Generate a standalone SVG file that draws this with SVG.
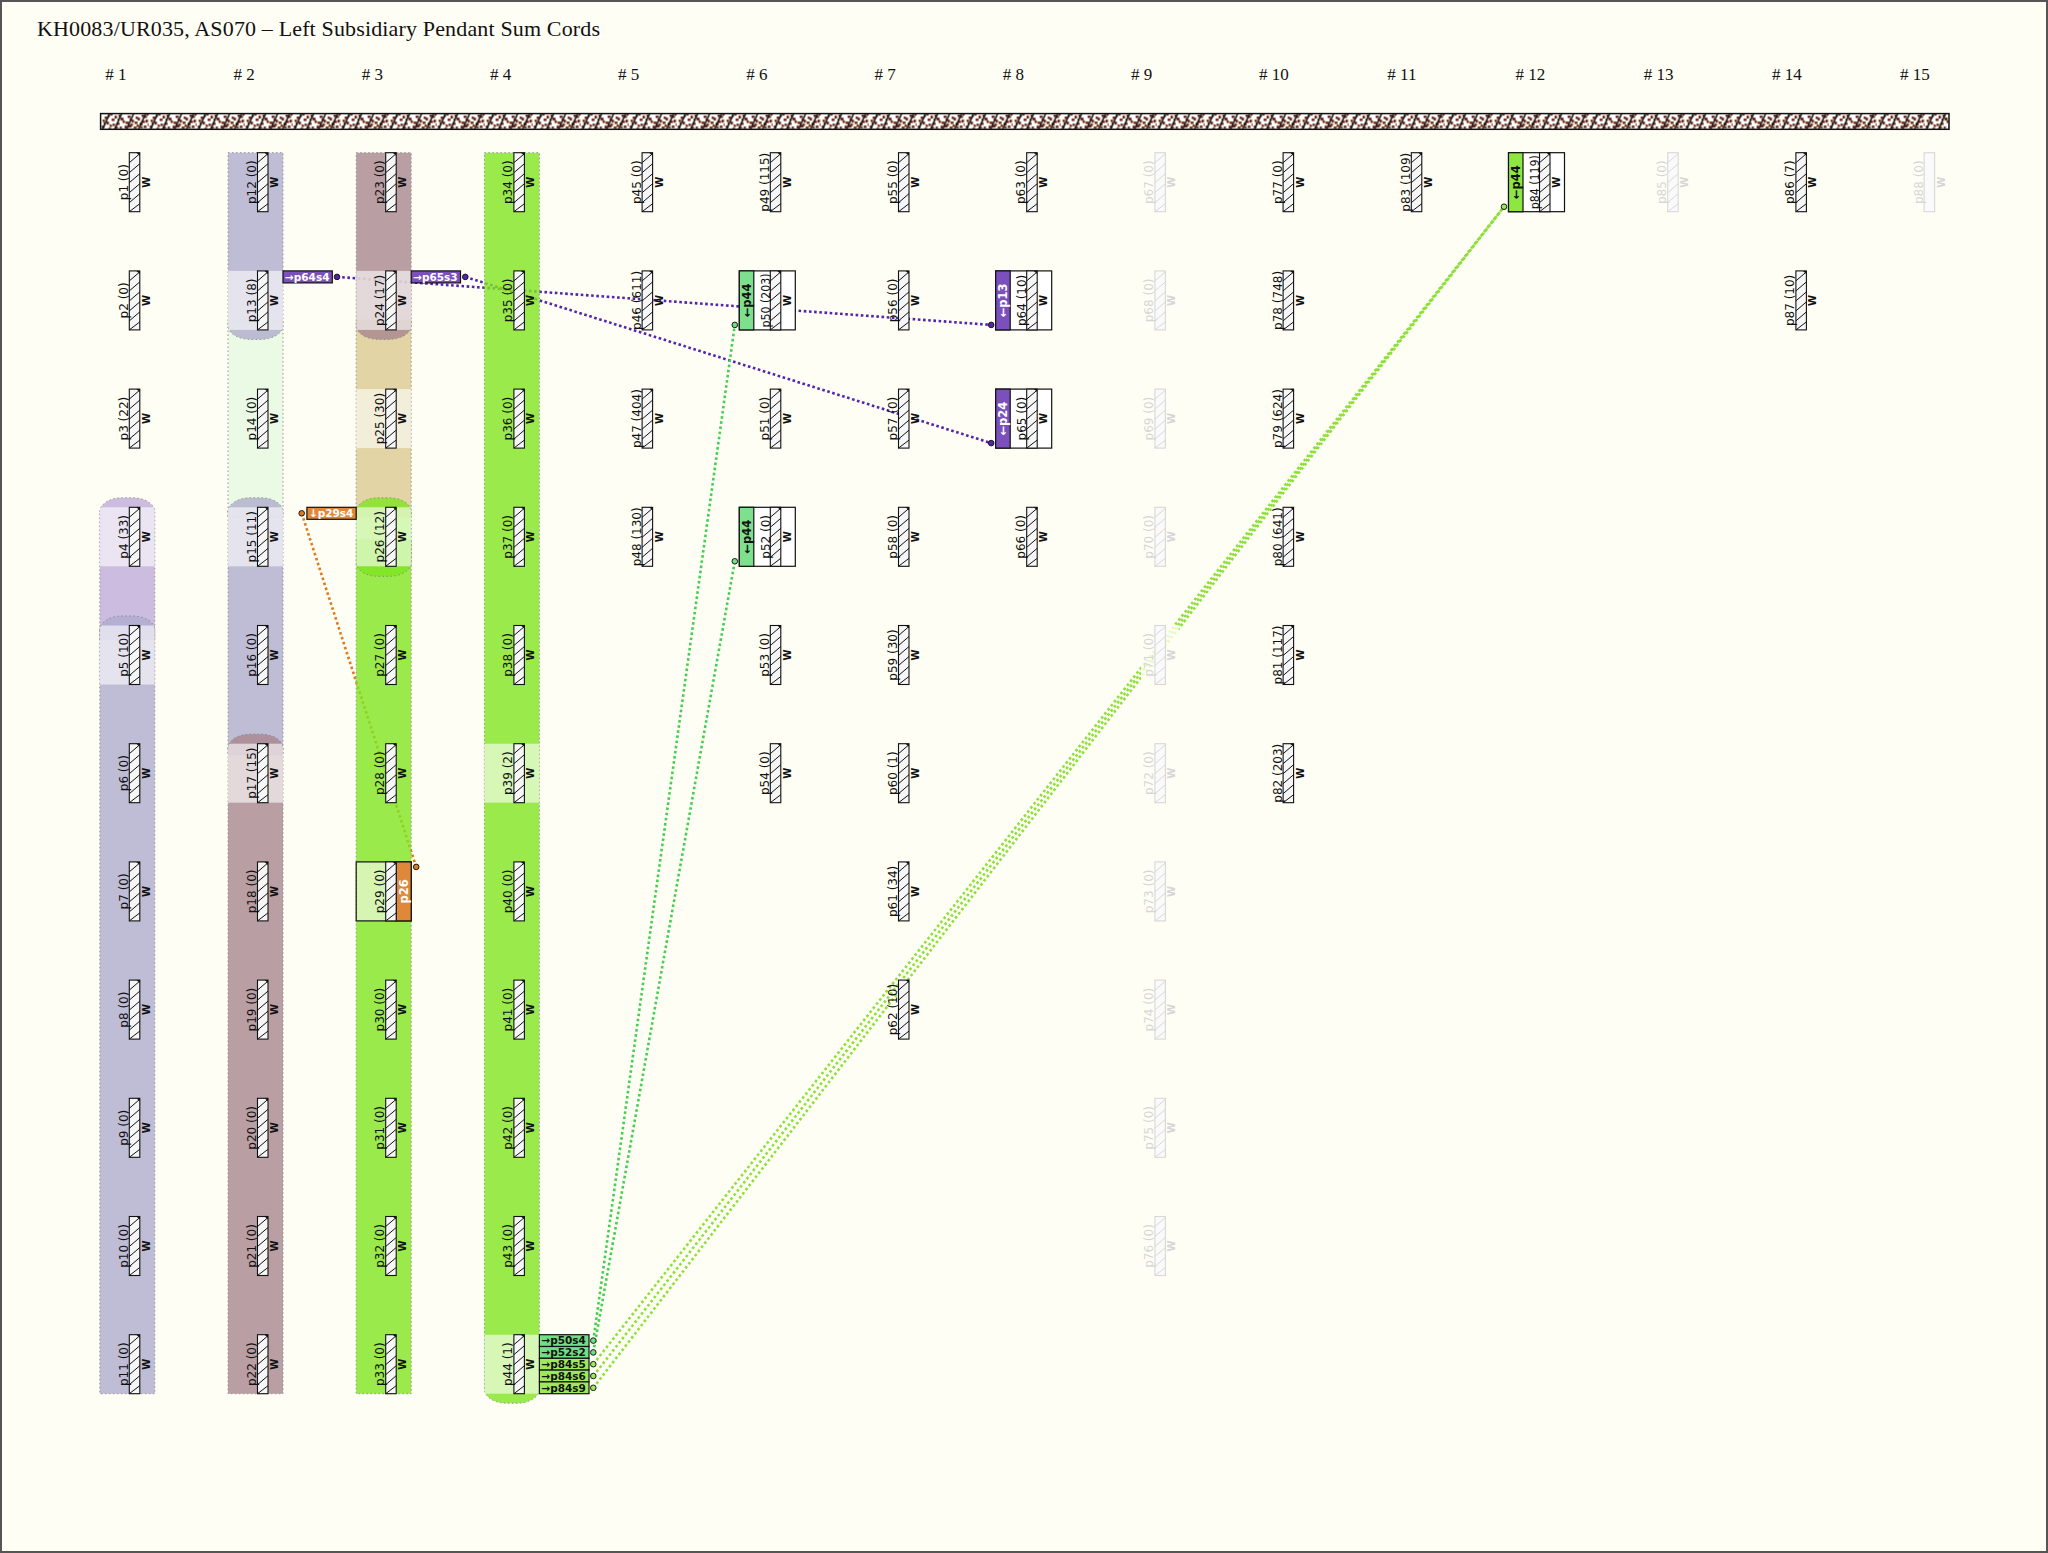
<svg xmlns="http://www.w3.org/2000/svg" width="2048" height="1553" viewBox="0 0 2048 1553">
<style>
.title{font-family:"Liberation Serif",serif;font-size:22px;fill:#111}
.hdr{font-family:"Liberation Serif",serif;font-size:17px;fill:#111}
.lbl{font-family:"DejaVu Sans",sans-serif;font-size:12px;text-anchor:middle;fill:#111}
.w{font-family:"DejaVu Sans",sans-serif;font-size:10px;font-weight:bold;text-anchor:middle;fill:#111}
.faded .lbl,.faded .w{fill:#d6d6d6}
.strip{font-family:"DejaVu Sans",sans-serif;font-size:11.5px;font-weight:bold;text-anchor:middle}
.tag{font-family:"DejaVu Sans",sans-serif;font-size:10.5px;font-weight:bold}
.pill{opacity:0.8;stroke:#7a7a7a;stroke-width:1;stroke-dasharray:1.5 2.5}
.band{fill:#fff;opacity:0.6}
.bx{stroke:#111;stroke-width:1.2}
.lk{fill:none;stroke-width:2.6;stroke-dasharray:2.6 2.6}
.dot{stroke:#1a1a1a;stroke-width:1}
</style>
<defs>
<pattern id="knot" patternUnits="userSpaceOnUse" x="100.6" y="113.6" width="48" height="15.7">
<rect width="48" height="15.7" fill="#fff"/>
<g fill="#6a2810">
<rect x="4" y="3" width="3" height="2.4"/><rect x="6" y="8" width="2.4" height="3"/><rect x="1" y="12" width="3" height="2.4"/><rect x="9" y="11" width="2.4" height="2.4"/><rect x="11" y="5" width="3" height="2.4"/><rect x="14" y="2" width="2.4" height="3"/><rect x="16" y="9" width="3" height="2.4"/><rect x="19" y="13" width="2.4" height="2.4"/><rect x="20" y="4" width="3" height="3"/><rect x="22" y="7" width="2.4" height="2.4"/><rect x="27" y="2" width="3" height="2.4"/><rect x="28" y="11" width="3" height="3"/><rect x="31" y="6" width="2.4" height="3"/><rect x="33" y="13" width="3" height="2.4"/><rect x="35" y="3" width="2.4" height="2.4"/><rect x="39" y="9" width="3" height="3"/><rect x="41" y="1" width="2.4" height="2.4"/><rect x="43" y="12" width="3" height="2.4"/><rect x="45" y="6" width="2.4" height="3"/><rect x="47" y="10" width="1" height="2.4"/><rect x="2" y="6" width="2.4" height="2.4"/><rect x="15" y="13" width="2.4" height="2.4"/><rect x="25" y="8" width="3" height="2.4"/><rect x="37" y="4" width="2.4" height="3"/><rect x="44" y="2" width="2.4" height="2.4"/><rect x="8" y="14" width="2.4" height="1.6"/><rect x="18" y="1" width="2.4" height="2.4"/><rect x="30" y="10" width="2.4" height="2.4"/><rect x="34" y="8" width="3" height="2.4"/><rect x="42" y="7" width="2.4" height="2.4"/><rect x="12" y="10" width="2.4" height="2.4"/><rect x="24" y="12" width="2.4" height="3"/><rect x="36" y="11" width="2.4" height="2.4"/><rect x="7" y="1" width="2.4" height="2.4"/><rect x="3" y="9" width="2" height="2"/><rect x="17" y="5" width="2" height="2"/><rect x="29" y="5" width="2" height="2"/><rect x="40" y="13" width="2" height="2"/><rect x="46" y="0" width="2" height="2"/><rect x="10" y="0" width="2" height="2"/>
</g>
<path d="M2,15.7L9,0M14,15.7L21,0M26,15.7L33,0M38,15.7L45,0" stroke="#111" stroke-width="1.6"/>
</pattern>
<g id="cord"><rect width="10.5" height="59" fill="#f6f6f6" stroke="#111" stroke-width="1.1"/><path d="M0,10L10.5,1M0,20L10.5,11M0,30L10.5,21M0,40L10.5,31M0,50L10.5,41M0,59L10.5,51" stroke="#111" stroke-width="1"/><path d="M7,0H10.5V3Z" fill="#111"/></g>
<g id="cordf"><rect width="10.5" height="59" fill="#fafafa" stroke="#d8d8d8" stroke-width="1.1"/><path d="M0,10L10.5,1M0,20L10.5,11M0,30L10.5,21M0,40L10.5,31M0,50L10.5,41M0,59L10.5,51" stroke="#d8d8d8" stroke-width="1"/></g>
<g id="cordp"><rect width="10.5" height="59" fill="#fafafa" stroke="#d8d8d8" stroke-width="1.1"/></g>
<path id="c1a" d="M99.8,511.8A22,14 0 0 1 121.8,497.8H132.8A22,14 0 0 1 154.8,511.8V640H99.8Z"/>
<path id="c1b" d="M99.8,630A22,14 0 0 1 121.8,616H132.8A22,14 0 0 1 154.8,630V1393.7H99.8Z"/>
<path id="c2g" d="M228,320H283V517H228Z"/>
<path id="c2a" d="M228,152.7H283V325.4A22,14 0 0 1 261,339.4H250A22,14 0 0 1 228,325.4Z"/>
<path id="c2b" d="M228,511.8A22,14 0 0 1 250,497.8H261A22,14 0 0 1 283,511.8V755H228Z"/>
<path id="c2c" d="M228,748.2A22,14 0 0 1 250,734.2H261A22,14 0 0 1 283,748.2V1393.7H228Z"/>
<path id="c3t" d="M356.2,320H411.2V517H356.2Z"/>
<path id="c3a" d="M356.2,152.7H411.2V325.4A22,14 0 0 1 389.2,339.4H378.2A22,14 0 0 1 356.2,325.4Z"/>
<path id="c3g" d="M356.2,540H411.2V1393.7H356.2Z"/>
<path id="c3b" d="M356.2,511.8A22,14 0 0 1 378.2,497.8H389.2A22,14 0 0 1 411.2,511.8V562.3A22,14 0 0 1 389.2,576.3H378.2A22,14 0 0 1 356.2,562.3Z"/>
<path id="c4a" d="M484.4,152.7H539.4V1389.2A22,14 0 0 1 517.4,1403.2H506.4A22,14 0 0 1 484.4,1389.2Z"/>
<clipPath id="k1a"><use href="#c1a"/></clipPath>
<clipPath id="k1b"><use href="#c1b"/></clipPath>
<clipPath id="k2a"><use href="#c2a"/></clipPath>
<clipPath id="k2b"><use href="#c2b"/></clipPath>
<clipPath id="k2c"><use href="#c2c"/></clipPath>
<clipPath id="k3a"><use href="#c3a"/></clipPath>
<clipPath id="k3b"><use href="#c3b"/></clipPath>
<clipPath id="k4a"><use href="#c4a"/></clipPath>
</defs>
<rect x="0" y="0" width="2048" height="1553" fill="#fffef5"/>
<rect x="1" y="1" width="2046" height="1551" fill="none" stroke="#555" stroke-width="2"/>
<text class="title" x="37" y="36" textLength="563" lengthAdjust="spacing">KH0083/UR035, AS070 – Left Subsidiary Pendant Sum Cords</text>
<g id="headers">
<text class="hdr" x="105.3" y="80"># 1</text><text class="hdr" x="233.5" y="80"># 2</text><text class="hdr" x="361.7" y="80"># 3</text><text class="hdr" x="489.9" y="80"># 4</text><text class="hdr" x="618.1" y="80"># 5</text><text class="hdr" x="746.3" y="80"># 6</text><text class="hdr" x="874.5" y="80"># 7</text><text class="hdr" x="1002.7" y="80"># 8</text><text class="hdr" x="1130.9" y="80"># 9</text><text class="hdr" x="1259.1" y="80"># 10</text><text class="hdr" x="1387.3" y="80"># 11</text><text class="hdr" x="1515.5" y="80"># 12</text><text class="hdr" x="1643.7" y="80"># 13</text><text class="hdr" x="1771.9" y="80"># 14</text><text class="hdr" x="1900.1" y="80"># 15</text>
</g>
<rect id="primary" x="100.6" y="113.6" width="1848.4" height="15.7" fill="url(#knot)" stroke="#111" stroke-width="1.5"/>
<g id="connectors">
<path class="lk" stroke="#5424b0" d="M337,276.9L991.2,324.9"/>
<path class="lk" stroke="#5424b0" d="M465.3,276.9L991.2,443.1"/>
<path class="lk" stroke="#e07a1c" d="M301.7,513.3L416.2,866.9"/>
<path class="lk" stroke="#45cf52" d="M593.3,1340.6L734.8,324.9"/>
<path class="lk" stroke="#45cf52" d="M593.3,1352.4L734.8,561.3"/>
<path class="lk" stroke="#8ee03a" d="M593.3,1364.2L1504,206.7"/>
<path class="lk" stroke="#8ee03a" d="M593.3,1376L1504,206.7"/>
<path class="lk" stroke="#8ee03a" d="M593.3,1387.8L1504,206.7"/>
</g>
<g id="groups">
<use href="#c1a" class="pill" fill="#c0aedc"/>
<use href="#c1b" class="pill" fill="#b0acce"/>
<rect class="band" x="99.8" y="507.3" width="55" height="59" clip-path="url(#k1a)"/>
<rect class="band" x="99.8" y="625.5" width="55" height="59" clip-path="url(#k1b)"/>
<use href="#c2g" class="pill" fill="#e7fae2"/>
<use href="#c2a" class="pill" fill="#b0acce"/>
<use href="#c2b" class="pill" fill="#b0acce"/>
<use href="#c2c" class="pill" fill="#a88790"/>
<rect class="band" x="228" y="270.9" width="55" height="59" clip-path="url(#k2a)"/>
<rect class="band" x="228" y="507.3" width="55" height="59" clip-path="url(#k2b)"/>
<rect class="band" x="228" y="743.7" width="55" height="59" clip-path="url(#k2c)"/>
<use href="#c3t" class="pill" fill="#dbca91"/>
<use href="#c3a" class="pill" fill="#a88790"/>
<use href="#c3g" class="pill" fill="#80e620"/>
<use href="#c3b" class="pill" fill="#80e620"/>
<rect class="band" x="356.2" y="270.9" width="55" height="59" clip-path="url(#k3a)"/>
<rect class="band" x="356.2" y="389.1" width="55" height="59"/>
<rect class="band" x="356.2" y="507.3" width="55" height="59" clip-path="url(#k3b)"/>
<use href="#c4a" class="pill" fill="#80e620"/>
<rect class="band" x="484.4" y="743.7" width="55" height="59"/>
<rect class="band" x="484.4" y="1334.7" width="55" height="59" clip-path="url(#k4a)"/>
</g>
<g id="nodes">
<g id="p1" transform="translate(129.3,152.7)"><use href="#cord"/><text class="lbl" transform="translate(-1.5,29.5) rotate(-90)">p1 (0)</text><text class="w" transform="translate(20.5,29.5) rotate(-90)">W</text></g>
<g id="p2" transform="translate(129.3,270.9)"><use href="#cord"/><text class="lbl" transform="translate(-1.5,29.5) rotate(-90)">p2 (0)</text><text class="w" transform="translate(20.5,29.5) rotate(-90)">W</text></g>
<g id="p3" transform="translate(129.3,389.1)"><use href="#cord"/><text class="lbl" transform="translate(-1.5,29.5) rotate(-90)">p3 (22)</text><text class="w" transform="translate(20.5,29.5) rotate(-90)">W</text></g>
<g id="p4" transform="translate(129.3,507.3)"><use href="#cord"/><text class="lbl" transform="translate(-1.5,29.5) rotate(-90)">p4 (33)</text><text class="w" transform="translate(20.5,29.5) rotate(-90)">W</text></g>
<g id="p5" transform="translate(129.3,625.5)"><use href="#cord"/><text class="lbl" transform="translate(-1.5,29.5) rotate(-90)">p5 (10)</text><text class="w" transform="translate(20.5,29.5) rotate(-90)">W</text></g>
<g id="p6" transform="translate(129.3,743.7)"><use href="#cord"/><text class="lbl" transform="translate(-1.5,29.5) rotate(-90)">p6 (0)</text><text class="w" transform="translate(20.5,29.5) rotate(-90)">W</text></g>
<g id="p7" transform="translate(129.3,861.9)"><use href="#cord"/><text class="lbl" transform="translate(-1.5,29.5) rotate(-90)">p7 (0)</text><text class="w" transform="translate(20.5,29.5) rotate(-90)">W</text></g>
<g id="p8" transform="translate(129.3,980.1)"><use href="#cord"/><text class="lbl" transform="translate(-1.5,29.5) rotate(-90)">p8 (0)</text><text class="w" transform="translate(20.5,29.5) rotate(-90)">W</text></g>
<g id="p9" transform="translate(129.3,1098.3)"><use href="#cord"/><text class="lbl" transform="translate(-1.5,29.5) rotate(-90)">p9 (0)</text><text class="w" transform="translate(20.5,29.5) rotate(-90)">W</text></g>
<g id="p10" transform="translate(129.3,1216.5)"><use href="#cord"/><text class="lbl" transform="translate(-1.5,29.5) rotate(-90)">p10 (0)</text><text class="w" transform="translate(20.5,29.5) rotate(-90)">W</text></g>
<g id="p11" transform="translate(129.3,1334.7)"><use href="#cord"/><text class="lbl" transform="translate(-1.5,29.5) rotate(-90)">p11 (0)</text><text class="w" transform="translate(20.5,29.5) rotate(-90)">W</text></g>
<g id="p12" transform="translate(257.5,152.7)"><use href="#cord"/><text class="lbl" transform="translate(-1.5,29.5) rotate(-90)">p12 (0)</text><text class="w" transform="translate(20.5,29.5) rotate(-90)">W</text></g>
<g id="p13" transform="translate(257.5,270.9)"><use href="#cord"/><text class="lbl" transform="translate(-1.5,29.5) rotate(-90)">p13 (8)</text><text class="w" transform="translate(20.5,29.5) rotate(-90)">W</text></g>
<g id="p14" transform="translate(257.5,389.1)"><use href="#cord"/><text class="lbl" transform="translate(-1.5,29.5) rotate(-90)">p14 (0)</text><text class="w" transform="translate(20.5,29.5) rotate(-90)">W</text></g>
<g id="p15" transform="translate(257.5,507.3)"><use href="#cord"/><text class="lbl" transform="translate(-1.5,29.5) rotate(-90)">p15 (11)</text><text class="w" transform="translate(20.5,29.5) rotate(-90)">W</text></g>
<g id="p16" transform="translate(257.5,625.5)"><use href="#cord"/><text class="lbl" transform="translate(-1.5,29.5) rotate(-90)">p16 (0)</text><text class="w" transform="translate(20.5,29.5) rotate(-90)">W</text></g>
<g id="p17" transform="translate(257.5,743.7)"><use href="#cord"/><text class="lbl" transform="translate(-1.5,29.5) rotate(-90)">p17 (15)</text><text class="w" transform="translate(20.5,29.5) rotate(-90)">W</text></g>
<g id="p18" transform="translate(257.5,861.9)"><use href="#cord"/><text class="lbl" transform="translate(-1.5,29.5) rotate(-90)">p18 (0)</text><text class="w" transform="translate(20.5,29.5) rotate(-90)">W</text></g>
<g id="p19" transform="translate(257.5,980.1)"><use href="#cord"/><text class="lbl" transform="translate(-1.5,29.5) rotate(-90)">p19 (0)</text><text class="w" transform="translate(20.5,29.5) rotate(-90)">W</text></g>
<g id="p20" transform="translate(257.5,1098.3)"><use href="#cord"/><text class="lbl" transform="translate(-1.5,29.5) rotate(-90)">p20 (0)</text><text class="w" transform="translate(20.5,29.5) rotate(-90)">W</text></g>
<g id="p21" transform="translate(257.5,1216.5)"><use href="#cord"/><text class="lbl" transform="translate(-1.5,29.5) rotate(-90)">p21 (0)</text><text class="w" transform="translate(20.5,29.5) rotate(-90)">W</text></g>
<g id="p22" transform="translate(257.5,1334.7)"><use href="#cord"/><text class="lbl" transform="translate(-1.5,29.5) rotate(-90)">p22 (0)</text><text class="w" transform="translate(20.5,29.5) rotate(-90)">W</text></g>
<g id="p23" transform="translate(385.7,152.7)"><use href="#cord"/><text class="lbl" transform="translate(-1.5,29.5) rotate(-90)">p23 (0)</text><text class="w" transform="translate(20.5,29.5) rotate(-90)">W</text></g>
<g id="p24" transform="translate(385.7,270.9)"><use href="#cord"/><text class="lbl" transform="translate(-1.5,29.5) rotate(-90)">p24 (17)</text><text class="w" transform="translate(20.5,29.5) rotate(-90)">W</text></g>
<g id="p25" transform="translate(385.7,389.1)"><use href="#cord"/><text class="lbl" transform="translate(-1.5,29.5) rotate(-90)">p25 (30)</text><text class="w" transform="translate(20.5,29.5) rotate(-90)">W</text></g>
<g id="p26" transform="translate(385.7,507.3)"><use href="#cord"/><text class="lbl" transform="translate(-1.5,29.5) rotate(-90)">p26 (12)</text><text class="w" transform="translate(20.5,29.5) rotate(-90)">W</text></g>
<g id="p27" transform="translate(385.7,625.5)"><use href="#cord"/><text class="lbl" transform="translate(-1.5,29.5) rotate(-90)">p27 (0)</text><text class="w" transform="translate(20.5,29.5) rotate(-90)">W</text></g>
<g id="p28" transform="translate(385.7,743.7)"><use href="#cord"/><text class="lbl" transform="translate(-1.5,29.5) rotate(-90)">p28 (0)</text><text class="w" transform="translate(20.5,29.5) rotate(-90)">W</text></g>
<g id="p29" transform="translate(385.7,861.9)"><rect class="bx" x="-29.5" y="0" width="55" height="59" fill="#d6f5b3"/><rect class="bx" x="10.5" y="0" width="15" height="59" fill="#e0883a"/><use href="#cord"/><text class="lbl" transform="translate(-1.5,29.5) rotate(-90)">p29 (0)</text><text class="strip" fill="#fff" transform="translate(22.2,29.5) rotate(-90)">p26</text></g>
<g id="p30" transform="translate(385.7,980.1)"><use href="#cord"/><text class="lbl" transform="translate(-1.5,29.5) rotate(-90)">p30 (0)</text><text class="w" transform="translate(20.5,29.5) rotate(-90)">W</text></g>
<g id="p31" transform="translate(385.7,1098.3)"><use href="#cord"/><text class="lbl" transform="translate(-1.5,29.5) rotate(-90)">p31 (0)</text><text class="w" transform="translate(20.5,29.5) rotate(-90)">W</text></g>
<g id="p32" transform="translate(385.7,1216.5)"><use href="#cord"/><text class="lbl" transform="translate(-1.5,29.5) rotate(-90)">p32 (0)</text><text class="w" transform="translate(20.5,29.5) rotate(-90)">W</text></g>
<g id="p33" transform="translate(385.7,1334.7)"><use href="#cord"/><text class="lbl" transform="translate(-1.5,29.5) rotate(-90)">p33 (0)</text><text class="w" transform="translate(20.5,29.5) rotate(-90)">W</text></g>
<g id="p34" transform="translate(513.9,152.7)"><use href="#cord"/><text class="lbl" transform="translate(-1.5,29.5) rotate(-90)">p34 (0)</text><text class="w" transform="translate(20.5,29.5) rotate(-90)">W</text></g>
<g id="p35" transform="translate(513.9,270.9)"><use href="#cord"/><text class="lbl" transform="translate(-1.5,29.5) rotate(-90)">p35 (0)</text><text class="w" transform="translate(20.5,29.5) rotate(-90)">W</text></g>
<g id="p36" transform="translate(513.9,389.1)"><use href="#cord"/><text class="lbl" transform="translate(-1.5,29.5) rotate(-90)">p36 (0)</text><text class="w" transform="translate(20.5,29.5) rotate(-90)">W</text></g>
<g id="p37" transform="translate(513.9,507.3)"><use href="#cord"/><text class="lbl" transform="translate(-1.5,29.5) rotate(-90)">p37 (0)</text><text class="w" transform="translate(20.5,29.5) rotate(-90)">W</text></g>
<g id="p38" transform="translate(513.9,625.5)"><use href="#cord"/><text class="lbl" transform="translate(-1.5,29.5) rotate(-90)">p38 (0)</text><text class="w" transform="translate(20.5,29.5) rotate(-90)">W</text></g>
<g id="p39" transform="translate(513.9,743.7)"><use href="#cord"/><text class="lbl" transform="translate(-1.5,29.5) rotate(-90)">p39 (2)</text><text class="w" transform="translate(20.5,29.5) rotate(-90)">W</text></g>
<g id="p40" transform="translate(513.9,861.9)"><use href="#cord"/><text class="lbl" transform="translate(-1.5,29.5) rotate(-90)">p40 (0)</text><text class="w" transform="translate(20.5,29.5) rotate(-90)">W</text></g>
<g id="p41" transform="translate(513.9,980.1)"><use href="#cord"/><text class="lbl" transform="translate(-1.5,29.5) rotate(-90)">p41 (0)</text><text class="w" transform="translate(20.5,29.5) rotate(-90)">W</text></g>
<g id="p42" transform="translate(513.9,1098.3)"><use href="#cord"/><text class="lbl" transform="translate(-1.5,29.5) rotate(-90)">p42 (0)</text><text class="w" transform="translate(20.5,29.5) rotate(-90)">W</text></g>
<g id="p43" transform="translate(513.9,1216.5)"><use href="#cord"/><text class="lbl" transform="translate(-1.5,29.5) rotate(-90)">p43 (0)</text><text class="w" transform="translate(20.5,29.5) rotate(-90)">W</text></g>
<g id="p44" transform="translate(513.9,1334.7)"><use href="#cord"/><text class="lbl" transform="translate(-1.5,29.5) rotate(-90)">p44 (1)</text><text class="w" transform="translate(20.5,29.5) rotate(-90)">W</text></g>
<g id="p45" transform="translate(642.1,152.7)"><use href="#cord"/><text class="lbl" transform="translate(-1.5,29.5) rotate(-90)">p45 (0)</text><text class="w" transform="translate(20.5,29.5) rotate(-90)">W</text></g>
<g id="p46" transform="translate(642.1,270.9)"><use href="#cord"/><text class="lbl" transform="translate(-1.5,29.5) rotate(-90)">p46 (611)</text><text class="w" transform="translate(20.5,29.5) rotate(-90)">W</text></g>
<g id="p47" transform="translate(642.1,389.1)"><use href="#cord"/><text class="lbl" transform="translate(-1.5,29.5) rotate(-90)">p47 (404)</text><text class="w" transform="translate(20.5,29.5) rotate(-90)">W</text></g>
<g id="p48" transform="translate(642.1,507.3)"><use href="#cord"/><text class="lbl" transform="translate(-1.5,29.5) rotate(-90)">p48 (130)</text><text class="w" transform="translate(20.5,29.5) rotate(-90)">W</text></g>
<g id="p49" transform="translate(770.3,152.7)"><use href="#cord"/><text class="lbl" transform="translate(-1.5,29.5) rotate(-90)">p49 (115)</text><text class="w" transform="translate(20.5,29.5) rotate(-90)">W</text></g>
<g id="p50" transform="translate(770.3,270.9)"><rect class="bx" x="-31" y="0" width="56" height="59" fill="#fff"/><rect class="bx" x="-31" y="0" width="14.5" height="59" fill="#7ee08c"/><use href="#cord"/><text class="lbl" textLength="54" lengthAdjust="spacingAndGlyphs" transform="translate(-0.5,29.5) rotate(-90)">p50 (203)</text><text class="w" transform="translate(20.5,29.5) rotate(-90)">W</text><text class="strip" fill="#111" transform="translate(-19.5,29.5) rotate(-90)">←p44</text></g>
<g id="p51" transform="translate(770.3,389.1)"><use href="#cord"/><text class="lbl" transform="translate(-1.5,29.5) rotate(-90)">p51 (0)</text><text class="w" transform="translate(20.5,29.5) rotate(-90)">W</text></g>
<g id="p52" transform="translate(770.3,507.3)"><rect class="bx" x="-31" y="0" width="56" height="59" fill="#fff"/><rect class="bx" x="-31" y="0" width="14.5" height="59" fill="#7ee08c"/><use href="#cord"/><text class="lbl" transform="translate(-0.5,29.5) rotate(-90)">p52 (0)</text><text class="w" transform="translate(20.5,29.5) rotate(-90)">W</text><text class="strip" fill="#111" transform="translate(-19.5,29.5) rotate(-90)">←p44</text></g>
<g id="p53" transform="translate(770.3,625.5)"><use href="#cord"/><text class="lbl" transform="translate(-1.5,29.5) rotate(-90)">p53 (0)</text><text class="w" transform="translate(20.5,29.5) rotate(-90)">W</text></g>
<g id="p54" transform="translate(770.3,743.7)"><use href="#cord"/><text class="lbl" transform="translate(-1.5,29.5) rotate(-90)">p54 (0)</text><text class="w" transform="translate(20.5,29.5) rotate(-90)">W</text></g>
<g id="p55" transform="translate(898.5,152.7)"><use href="#cord"/><text class="lbl" transform="translate(-1.5,29.5) rotate(-90)">p55 (0)</text><text class="w" transform="translate(20.5,29.5) rotate(-90)">W</text></g>
<g id="p56" transform="translate(898.5,270.9)"><use href="#cord"/><text class="lbl" transform="translate(-1.5,29.5) rotate(-90)">p56 (0)</text><text class="w" transform="translate(20.5,29.5) rotate(-90)">W</text></g>
<g id="p57" transform="translate(898.5,389.1)"><use href="#cord"/><text class="lbl" transform="translate(-1.5,29.5) rotate(-90)">p57 (0)</text><text class="w" transform="translate(20.5,29.5) rotate(-90)">W</text></g>
<g id="p58" transform="translate(898.5,507.3)"><use href="#cord"/><text class="lbl" transform="translate(-1.5,29.5) rotate(-90)">p58 (0)</text><text class="w" transform="translate(20.5,29.5) rotate(-90)">W</text></g>
<g id="p59" transform="translate(898.5,625.5)"><use href="#cord"/><text class="lbl" transform="translate(-1.5,29.5) rotate(-90)">p59 (30)</text><text class="w" transform="translate(20.5,29.5) rotate(-90)">W</text></g>
<g id="p60" transform="translate(898.5,743.7)"><use href="#cord"/><text class="lbl" transform="translate(-1.5,29.5) rotate(-90)">p60 (1)</text><text class="w" transform="translate(20.5,29.5) rotate(-90)">W</text></g>
<g id="p61" transform="translate(898.5,861.9)"><use href="#cord"/><text class="lbl" transform="translate(-1.5,29.5) rotate(-90)">p61 (34)</text><text class="w" transform="translate(20.5,29.5) rotate(-90)">W</text></g>
<g id="p62" transform="translate(898.5,980.1)"><use href="#cord"/><text class="lbl" transform="translate(-1.5,29.5) rotate(-90)">p62 (10)</text><text class="w" transform="translate(20.5,29.5) rotate(-90)">W</text></g>
<g id="p63" transform="translate(1026.7,152.7)"><use href="#cord"/><text class="lbl" transform="translate(-1.5,29.5) rotate(-90)">p63 (0)</text><text class="w" transform="translate(20.5,29.5) rotate(-90)">W</text></g>
<g id="p64" transform="translate(1026.7,270.9)"><rect class="bx" x="-31" y="0" width="56" height="59" fill="#fff"/><rect class="bx" x="-31" y="0" width="14.5" height="59" fill="#7b50bd"/><use href="#cord"/><text class="lbl" transform="translate(-0.5,29.5) rotate(-90)">p64 (10)</text><text class="w" transform="translate(20.5,29.5) rotate(-90)">W</text><text class="strip" fill="#fff" transform="translate(-19.5,29.5) rotate(-90)">←p13</text></g>
<g id="p65" transform="translate(1026.7,389.1)"><rect class="bx" x="-31" y="0" width="56" height="59" fill="#fff"/><rect class="bx" x="-31" y="0" width="14.5" height="59" fill="#7b50bd"/><use href="#cord"/><text class="lbl" transform="translate(-0.5,29.5) rotate(-90)">p65 (0)</text><text class="w" transform="translate(20.5,29.5) rotate(-90)">W</text><text class="strip" fill="#fff" transform="translate(-19.5,29.5) rotate(-90)">←p24</text></g>
<g id="p66" transform="translate(1026.7,507.3)"><use href="#cord"/><text class="lbl" transform="translate(-1.5,29.5) rotate(-90)">p66 (0)</text><text class="w" transform="translate(20.5,29.5) rotate(-90)">W</text></g>
<g id="p67" class="faded" transform="translate(1154.9,152.7)"><rect x="-14" width="38" height="59" fill="#fffef5" opacity="0.8"/><use href="#cordf"/><text class="lbl" transform="translate(-1.5,29.5) rotate(-90)">p67 (0)</text><text class="w" transform="translate(20.5,29.5) rotate(-90)">W</text></g>
<g id="p68" class="faded" transform="translate(1154.9,270.9)"><rect x="-14" width="38" height="59" fill="#fffef5" opacity="0.8"/><use href="#cordf"/><text class="lbl" transform="translate(-1.5,29.5) rotate(-90)">p68 (0)</text><text class="w" transform="translate(20.5,29.5) rotate(-90)">W</text></g>
<g id="p69" class="faded" transform="translate(1154.9,389.1)"><rect x="-14" width="38" height="59" fill="#fffef5" opacity="0.8"/><use href="#cordf"/><text class="lbl" transform="translate(-1.5,29.5) rotate(-90)">p69 (0)</text><text class="w" transform="translate(20.5,29.5) rotate(-90)">W</text></g>
<g id="p70" class="faded" transform="translate(1154.9,507.3)"><rect x="-14" width="38" height="59" fill="#fffef5" opacity="0.8"/><use href="#cordf"/><text class="lbl" transform="translate(-1.5,29.5) rotate(-90)">p70 (0)</text><text class="w" transform="translate(20.5,29.5) rotate(-90)">W</text></g>
<g id="p71" class="faded" transform="translate(1154.9,625.5)"><rect x="-14" width="38" height="59" fill="#fffef5" opacity="0.8"/><use href="#cordf"/><text class="lbl" transform="translate(-1.5,29.5) rotate(-90)">p71 (0)</text><text class="w" transform="translate(20.5,29.5) rotate(-90)">W</text></g>
<g id="p72" class="faded" transform="translate(1154.9,743.7)"><rect x="-14" width="38" height="59" fill="#fffef5" opacity="0.8"/><use href="#cordf"/><text class="lbl" transform="translate(-1.5,29.5) rotate(-90)">p72 (0)</text><text class="w" transform="translate(20.5,29.5) rotate(-90)">W</text></g>
<g id="p73" class="faded" transform="translate(1154.9,861.9)"><rect x="-14" width="38" height="59" fill="#fffef5" opacity="0.8"/><use href="#cordf"/><text class="lbl" transform="translate(-1.5,29.5) rotate(-90)">p73 (0)</text><text class="w" transform="translate(20.5,29.5) rotate(-90)">W</text></g>
<g id="p74" class="faded" transform="translate(1154.9,980.1)"><rect x="-14" width="38" height="59" fill="#fffef5" opacity="0.8"/><use href="#cordf"/><text class="lbl" transform="translate(-1.5,29.5) rotate(-90)">p74 (0)</text><text class="w" transform="translate(20.5,29.5) rotate(-90)">W</text></g>
<g id="p75" class="faded" transform="translate(1154.9,1098.3)"><rect x="-14" width="38" height="59" fill="#fffef5" opacity="0.8"/><use href="#cordf"/><text class="lbl" transform="translate(-1.5,29.5) rotate(-90)">p75 (0)</text><text class="w" transform="translate(20.5,29.5) rotate(-90)">W</text></g>
<g id="p76" class="faded" transform="translate(1154.9,1216.5)"><rect x="-14" width="38" height="59" fill="#fffef5" opacity="0.8"/><use href="#cordf"/><text class="lbl" transform="translate(-1.5,29.5) rotate(-90)">p76 (0)</text><text class="w" transform="translate(20.5,29.5) rotate(-90)">W</text></g>
<g id="p77" transform="translate(1283.1,152.7)"><use href="#cord"/><text class="lbl" transform="translate(-1.5,29.5) rotate(-90)">p77 (0)</text><text class="w" transform="translate(20.5,29.5) rotate(-90)">W</text></g>
<g id="p78" transform="translate(1283.1,270.9)"><use href="#cord"/><text class="lbl" transform="translate(-1.5,29.5) rotate(-90)">p78 (748)</text><text class="w" transform="translate(20.5,29.5) rotate(-90)">W</text></g>
<g id="p79" transform="translate(1283.1,389.1)"><use href="#cord"/><text class="lbl" transform="translate(-1.5,29.5) rotate(-90)">p79 (624)</text><text class="w" transform="translate(20.5,29.5) rotate(-90)">W</text></g>
<g id="p80" transform="translate(1283.1,507.3)"><use href="#cord"/><text class="lbl" transform="translate(-1.5,29.5) rotate(-90)">p80 (641)</text><text class="w" transform="translate(20.5,29.5) rotate(-90)">W</text></g>
<g id="p81" transform="translate(1283.1,625.5)"><use href="#cord"/><text class="lbl" transform="translate(-1.5,29.5) rotate(-90)">p81 (117)</text><text class="w" transform="translate(20.5,29.5) rotate(-90)">W</text></g>
<g id="p82" transform="translate(1283.1,743.7)"><use href="#cord"/><text class="lbl" transform="translate(-1.5,29.5) rotate(-90)">p82 (203)</text><text class="w" transform="translate(20.5,29.5) rotate(-90)">W</text></g>
<g id="p83" transform="translate(1411.3,152.7)"><use href="#cord"/><text class="lbl" transform="translate(-1.5,29.5) rotate(-90)">p83 (109)</text><text class="w" transform="translate(20.5,29.5) rotate(-90)">W</text></g>
<g id="p84" transform="translate(1539.5,152.7)"><rect class="bx" x="-31" y="0" width="56" height="59" fill="#fff"/><rect class="bx" x="-31" y="0" width="14.5" height="59" fill="#8ee640"/><use href="#cord"/><text class="lbl" textLength="54" lengthAdjust="spacingAndGlyphs" transform="translate(-0.5,29.5) rotate(-90)">p84 (119)</text><text class="w" transform="translate(20.5,29.5) rotate(-90)">W</text><text class="strip" fill="#111" transform="translate(-19.5,29.5) rotate(-90)">←p44</text></g>
<g id="p85" class="faded" transform="translate(1667.7,152.7)"><use href="#cordf"/><text class="lbl" transform="translate(-1.5,29.5) rotate(-90)">p85 (0)</text><text class="w" transform="translate(20.5,29.5) rotate(-90)">W</text></g>
<g id="p86" transform="translate(1795.9,152.7)"><use href="#cord"/><text class="lbl" transform="translate(-1.5,29.5) rotate(-90)">p86 (7)</text><text class="w" transform="translate(20.5,29.5) rotate(-90)">W</text></g>
<g id="p87" transform="translate(1795.9,270.9)"><use href="#cord"/><text class="lbl" transform="translate(-1.5,29.5) rotate(-90)">p87 (10)</text><text class="w" transform="translate(20.5,29.5) rotate(-90)">W</text></g>
<g id="p88" class="faded" transform="translate(1924.1,152.7)"><use href="#cordp"/><text class="lbl" transform="translate(-1.5,29.5) rotate(-90)">p88 (0)</text><text class="w" transform="translate(20.5,29.5) rotate(-90)">W</text></g>
</g>
<g id="tags">
<rect class="bx" x="283" y="270.9" width="49.3" height="12" fill="#7b50bd"/><text class="tag" x="285" y="280.7" fill="#fff">→p64s4</text>
<rect class="bx" x="411.2" y="270.9" width="49.3" height="12" fill="#7b50bd"/><text class="tag" x="413.2" y="280.7" fill="#fff">→p65s3</text>
<rect class="bx" x="306.9" y="507.3" width="49.3" height="12" fill="#e0883a"/><text class="tag" x="308.9" y="517.1" fill="#fff">↓p29s4</text>
<rect class="bx" x="539.4" y="1334.7" width="49.6" height="11.8" fill="#72de86"/><text class="tag" x="541.4" y="1344.4" fill="#111">→p50s4</text>
<rect class="bx" x="539.4" y="1346.5" width="49.6" height="11.8" fill="#72de86"/><text class="tag" x="541.4" y="1356.2" fill="#111">→p52s2</text>
<rect class="bx" x="539.4" y="1358.3" width="49.6" height="11.8" fill="#9ee95a"/><text class="tag" x="541.4" y="1368" fill="#111">→p84s5</text>
<rect class="bx" x="539.4" y="1370.1" width="49.6" height="11.8" fill="#9ee95a"/><text class="tag" x="541.4" y="1379.8" fill="#111">→p84s6</text>
<rect class="bx" x="539.4" y="1381.9" width="49.6" height="11.8" fill="#9ee95a"/><text class="tag" x="541.4" y="1391.6" fill="#111">→p84s9</text>
</g>
<g id="dots">
<circle class="dot" cx="337" cy="276.9" r="2.8" fill="#5424b0"/>
<circle class="dot" cx="465.3" cy="276.9" r="2.8" fill="#5424b0"/>
<circle class="dot" cx="991.2" cy="324.9" r="2.8" fill="#5424b0"/>
<circle class="dot" cx="991.2" cy="443.1" r="2.8" fill="#5424b0"/>
<circle class="dot" cx="301.7" cy="513.3" r="2.8" fill="#e07a1c"/>
<circle class="dot" cx="416.2" cy="866.9" r="2.8" fill="#e07a1c"/>
<circle class="dot" cx="593.3" cy="1340.6" r="2.8" fill="#72de86"/>
<circle class="dot" cx="593.3" cy="1352.4" r="2.8" fill="#72de86"/>
<circle class="dot" cx="593.3" cy="1364.2" r="2.8" fill="#9ee95a"/>
<circle class="dot" cx="593.3" cy="1376" r="2.8" fill="#9ee95a"/>
<circle class="dot" cx="593.3" cy="1387.8" r="2.8" fill="#9ee95a"/>
<circle class="dot" cx="734.8" cy="324.9" r="2.8" fill="#72de86"/>
<circle class="dot" cx="734.8" cy="561.3" r="2.8" fill="#72de86"/>
<circle class="dot" cx="1504" cy="206.7" r="2.8" fill="#9ee95a"/>
</g>
</svg>
